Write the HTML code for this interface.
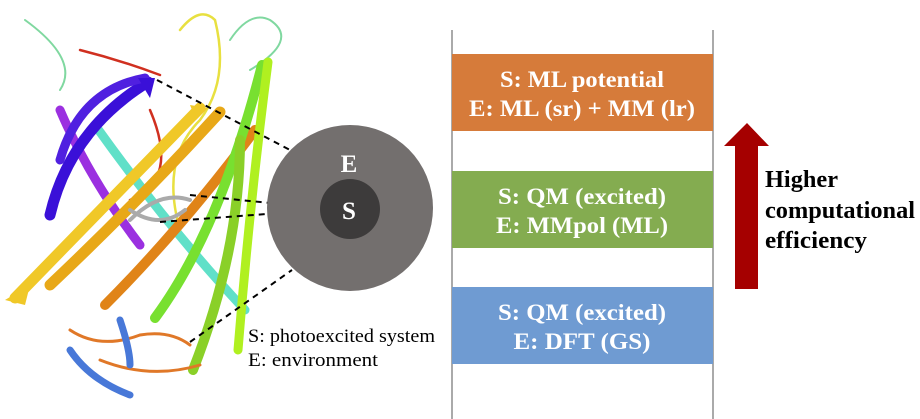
<!DOCTYPE html>
<html><head><meta charset="utf-8"><style>
body{margin:0;width:920px;height:419px;background:#fff;position:relative;overflow:hidden;font-family:"Liberation Serif",serif}
.vl{position:absolute;top:30px;bottom:0;width:2px;background:#aaa}
.b{position:absolute;left:452px;width:261px;height:77px}
</style></head><body>
<div class="vl" style="left:451px"></div>
<div class="vl" style="left:712px"></div>
<div class="b" style="top:54px;background:#d67b3a"></div>
<div class="b" style="top:171px;background:#84ac50"></div>
<div class="b" style="top:287px;background:#6f9bd2"></div>
<svg width="920" height="419" style="position:absolute;left:0;top:0">
<g fill="none" stroke-linecap="round">
<path d="M60 110 Q90 180 140 245" stroke="#9b30e0" stroke-width="9"/>
<path d="M95 125 Q170 230 245 310" stroke="#60e0c8" stroke-width="9"/>
<path d="M25 20 Q80 60 60 90 M250 70 Q300 40 270 20 Q250 10 230 40" stroke="#80d8a0" stroke-width="2"/>
<path d="M180 30 Q200 5 215 20 Q230 80 200 120 Q160 160 180 230" stroke="#e8e040" stroke-width="2.5"/>
<path d="M80 50 Q120 60 160 75 M150 110 Q180 180 130 200" stroke="#d03020" stroke-width="2.5"/>
<path d="M50 215 Q70 130 148 82" stroke="#3a10d8" stroke-width="11"/>
<path d="M60 160 Q80 90 145 78" stroke="#5020e0" stroke-width="9"/>
<path d="M15 298 Q110 200 200 108" stroke="#f0c828" stroke-width="11"/>
<path d="M50 285 Q140 200 220 112" stroke="#e8a818" stroke-width="11"/>
<path d="M105 305 Q180 230 255 130" stroke="#e08418" stroke-width="10"/>
<path d="M155 318 Q220 230 262 65" stroke="#78e030" stroke-width="10"/>
<path d="M193 370 Q240 250 240 140" stroke="#8ad028" stroke-width="10"/>
<path d="M238 350 Q250 200 268 62" stroke="#b0f020" stroke-width="9"/>
<path d="M70 330 Q100 350 140 335 Q170 330 190 345 M100 360 Q150 380 200 365" stroke="#e07828" stroke-width="3"/>
<path d="M70 350 Q90 380 130 395 M120 320 Q130 350 130 365" stroke="#4878d8" stroke-width="7"/>
<path d="M130 220 Q160 190 190 200 M130 210 Q160 230 185 210" stroke="#aaa" stroke-width="4"/>
</g>
<polygon points="5,300 30,285 25,305" fill="#f0c828"/>
<polygon points="138,78 155,78 150,98" fill="#3a10d8"/>
<polygon points="190,105 208,108 196,120" fill="#f0c828"/>
<g stroke="#000" stroke-width="2" stroke-dasharray="6,5">
<line x1="157" y1="80" x2="290" y2="150"/>
<line x1="190" y1="195" x2="320" y2="208"/>
<line x1="160" y1="222" x2="320" y2="210"/>
<line x1="190" y1="342" x2="292" y2="270"/>
</g>
<circle cx="350" cy="208" r="83" fill="#736f6e"/>
<circle cx="350" cy="209" r="30" fill="#3d3b3b"/>
<g font-family="Liberation Serif" font-weight="bold" fill="#fff" text-anchor="middle">
<text x="349" y="172" font-size="25">E</text>
<text x="349" y="219" font-size="25">S</text>
<text x="582" y="87" font-size="23" textLength="164" lengthAdjust="spacingAndGlyphs">S: ML potential</text>
<text x="582" y="116" font-size="23" textLength="226" lengthAdjust="spacingAndGlyphs">E: ML (sr) + MM (lr)</text>
<text x="582" y="204" font-size="23" textLength="168" lengthAdjust="spacingAndGlyphs">S: QM (excited)</text>
<text x="582" y="233" font-size="23" textLength="172" lengthAdjust="spacingAndGlyphs">E: MMpol (ML)</text>
<text x="582" y="320" font-size="23" textLength="168" lengthAdjust="spacingAndGlyphs">S: QM (excited)</text>
<text x="582" y="349" font-size="23" textLength="137" lengthAdjust="spacingAndGlyphs">E: DFT (GS)</text>
</g>
<text x="248" y="342" font-family="Liberation Serif" font-size="19" fill="#000" textLength="187" lengthAdjust="spacingAndGlyphs">S: photoexcited system</text>
<text x="248" y="366" font-family="Liberation Serif" font-size="19" fill="#000" textLength="130" lengthAdjust="spacingAndGlyphs">E: environment</text>
<polygon points="735,289 758,289 758,146 769,146 747,123 724,146 735,146" fill="#a50000"/>
<g font-family="Liberation Serif" font-weight="bold" font-size="24" fill="#000">
<text x="765" y="187" textLength="73" lengthAdjust="spacingAndGlyphs">Higher</text>
<text x="765" y="218" textLength="150" lengthAdjust="spacingAndGlyphs">computational</text>
<text x="765" y="248" textLength="102" lengthAdjust="spacingAndGlyphs">efficiency</text>
</g>
</svg>
</body></html>
